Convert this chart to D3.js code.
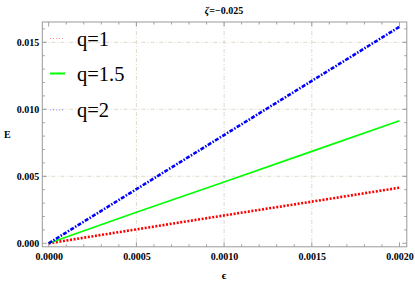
<!DOCTYPE html>
<html lang="en">
<head>
    <meta charset="UTF-8">
    <title>E vs epsilon</title>
    <script src="https://d3js.org/d3.v7.min.js"></script>
    <style>
        body { margin: 0; background: #fff; }
        svg { display: block; }
        .tick text { font-family: 'Liberation Serif', serif; font-weight: bold; font-size: 10px; fill: #000; }
    </style>
</head>
<body>
    <svg width="415" height="284"></svg>

    <script>
        // data
        const epsilon = [0, 0.0005, 0.001, 0.0015, 0.002];
        const q1 = [0, 0.00104, 0.00208, 0.00311, 0.00415];
        const q15 = [0, 0.00232, 0.00458, 0.00686, 0.00915];
        const q2 = [0, 0.00404, 0.00808, 0.01212, 0.01616];
        const qLabels = ["q=1", "q=1.5", "q=2"];
        const xTicks = [0, 0.0005, 0.001, 0.0015, 0.002];
        const yTicks = [0, 0.005, 0.010, 0.015];

        const width = 415, height = 284;
        const svg = d3.select("svg");

        const frame = { left: 42.3, right: 406.8, top: 22, bottom: 246.8 };

        const x = d3.scaleLinear().domain([0, 0.002]).range([48.7, 399.5]);
        const y = d3.scaleLinear().domain([0, 0.015]).range([243.3, 42.3]);

        const series = [
            { name: qLabels[0], values: q1, color: "#ff0000", width: 2.6, dash: "2,1.6" },
            { name: qLabels[1], values: q15, color: "#00ff00", width: 1.6, dash: null },
            { name: qLabels[2], values: q2, color: "#0000ff", width: 2.6, dash: "4,1.5,1.5,1.5" }
        ];

        // grid
        const grid = svg.append("g").attr("stroke", "#d8cfc0").attr("stroke-width", 0.8)
            .attr("stroke-dasharray", "4,2,1,2");
        grid.selectAll(".gx").data(xTicks.slice(1, -1)).join("line")
            .attr("x1", d => x(d)).attr("x2", d => x(d))
            .attr("y1", frame.top).attr("y2", frame.bottom);
        grid.selectAll(".gy").data(yTicks.slice(1)).join("line")
            .attr("y1", d => y(d)).attr("y2", d => y(d))
            .attr("x1", frame.left).attr("x2", frame.right);

        // ticks (inward), major + minor on all sides
        const xMinor = d3.range(0, 0.00201, 0.0001);
        const yMinor = d3.range(0, 0.0165, 0.001);
        const ticks = svg.append("g").attr("stroke", "#888").attr("stroke-width", 0.8);
        const isMajorX = d => Math.abs(d / 0.0005 - Math.round(d / 0.0005)) < 1e-6;
        const isMajorY = d => Math.abs(d / 0.005 - Math.round(d / 0.005)) < 1e-6;
        xMinor.forEach(d => {
            const len = isMajorX(d) ? 4.5 : 2.5;
            ticks.append("line").attr("x1", x(d)).attr("x2", x(d)).attr("y1", frame.bottom).attr("y2", frame.bottom - len);
            ticks.append("line").attr("x1", x(d)).attr("x2", x(d)).attr("y1", frame.top).attr("y2", frame.top + len);
        });
        yMinor.forEach(d => {
            const len = isMajorY(d) ? 4.5 : 2.5;
            ticks.append("line").attr("y1", y(d)).attr("y2", y(d)).attr("x1", frame.left).attr("x2", frame.left + len);
            ticks.append("line").attr("y1", y(d)).attr("y2", y(d)).attr("x1", frame.right).attr("x2", frame.right - len);
        });

        // tick labels through axes
        svg.append("g").attr("transform", `translate(0,${frame.bottom})`)
            .call(d3.axisBottom(x).tickValues(xTicks).tickFormat(d3.format(".4f")).tickSize(0).tickPadding(6))
            .call(g => g.select(".domain").remove());
        svg.append("g").attr("transform", `translate(${frame.left},0)`)
            .call(d3.axisLeft(y).tickValues(yTicks).tickFormat(d3.format(".3f")).tickSize(0).tickPadding(3))
            .call(g => g.select(".domain").remove());

        // frame
        svg.append("rect")
            .attr("x", frame.left).attr("y", frame.top)
            .attr("width", frame.right - frame.left).attr("height", frame.bottom - frame.top)
            .attr("fill", "none").attr("stroke", "#999").attr("stroke-width", 1);

        // lines
        const line = d3.line().x((d, i) => x(epsilon[i])).y(d => y(d));
        svg.selectAll(".series").data(series).join("path")
            .attr("d", d => line(d.values))
            .attr("fill", "none")
            .attr("stroke", d => d.color)
            .attr("stroke-width", d => d.width)
            .attr("stroke-dasharray", d => d.dash);

        // legend
        const legend = svg.append("g");
        const legendY = [38.5, 73.5, 110];
        series.forEach((s, i) => {
            legend.append("line")
                .attr("x1", 50).attr("x2", 65)
                .attr("y1", legendY[i]).attr("y2", legendY[i])
                .attr("stroke", s.color)
                .attr("stroke-width", s.dash ? 0.8 : 2)
                .attr("stroke-opacity", s.dash ? 0.5 : 1)
                .attr("stroke-dasharray", s.dash ? "1,2" : null);
            legend.append("text")
                .attr("x", 77).attr("y", legendY[i] + 7)
                .style("font-family", "'Liberation Serif', serif")
                .style("font-size", "20.5px")
                .text(s.name);
        });

        // title and axis labels
        const title = svg.append("text")
            .attr("x", 224).attr("y", 13.5)
            .attr("text-anchor", "middle")
            .style("font-family", "'Liberation Serif', serif")
            .style("font-weight", "bold")
            .style("font-size", "10px");
        title.append("tspan").style("font-style", "italic").text("ζ");
        title.append("tspan").text("=−0.025");

        svg.append("text")
            .attr("x", 4).attr("y", 138)
            .style("font-family", "'Liberation Serif', serif")
            .style("font-weight", "bold")
            .style("font-size", "10px")
            .text("E");

        svg.append("text")
            .attr("x", 224).attr("y", 279)
            .attr("text-anchor", "middle")
            .style("font-family", "'Liberation Serif', serif")
            .style("font-weight", "bold")
            .style("font-size", "11px")
            .text("ϵ");
    </script>
</body>
</html>
